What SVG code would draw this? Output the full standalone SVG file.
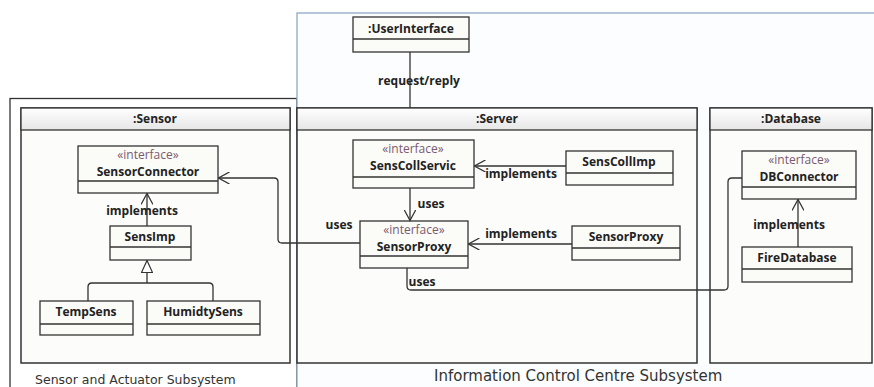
<svg xmlns="http://www.w3.org/2000/svg" width="874" height="387" viewBox="0 0 874 387">
<defs>
<linearGradient id="hdr" x1="0" y1="0" x2="0" y2="1">
<stop offset="0" stop-color="#ffffff"/>
<stop offset="1" stop-color="#e6e6e6"/>
</linearGradient>
<marker id="open" viewBox="0 0 12 12" refX="11" refY="6" markerWidth="12" markerHeight="12" markerUnits="userSpaceOnUse" orient="auto">
<path d="M0,0 L11,6 L0,12" fill="none" stroke="#333" stroke-width="1.3"/>
</marker>
<marker id="tri" viewBox="0 0 14 12" refX="13" refY="6" markerWidth="14" markerHeight="12" markerUnits="userSpaceOnUse" orient="auto">
<path d="M1,0.5 L13,6 L1,11.5 Z" fill="#fff" stroke="#333" stroke-width="1.2"/>
</marker>
</defs>
<style>
text{font-family:"Open Sans","DejaVu Sans",sans-serif;fill:#222}
.b{font-weight:bold;font-size:12px}
.st{font-size:12px;fill:#7a5a6e}
.lbl{font-weight:bold;font-size:12px}
.sub{font-family:"Comic Sans MS","DejaVu Sans",sans-serif;fill:#333}
.frame{fill:#fff;stroke:#333;stroke-width:1.3}
.icc{fill:#fbfdfe;stroke:#8fa8c4;stroke-width:1.3}
.comp{fill:#fcfcfa;stroke:#333;stroke-width:1.5}
.hdr{fill:url(#hdr);stroke:#333;stroke-width:1.3}
.cls{fill:#fbfbf8;stroke:#333;stroke-width:1.3}
.conn{fill:none;stroke:#333;stroke-width:1.3}
</style>
<rect width="874" height="387" fill="#fff"/>

<g id="sensor-subsystem">
<rect class="frame" x="10" y="98.5" width="287" height="300"/>
<text class="sub" x="35" y="384" style="font-size:12.5px">Sensor and Actuator Subsystem</text>
</g>
<g id="icc-subsystem">
<rect class="icc" x="297" y="13" width="590" height="390"/>
<text class="sub" x="434" y="381" style="font-size:15px">Information Control Centre Subsystem</text>
</g>

<g id="sensor">
<rect class="comp" x="21" y="108" width="269" height="255"/>
<rect class="hdr" x="21" y="108" width="269" height="22"/>
<text class="b" x="155" y="123" text-anchor="middle">:Sensor</text>
</g>
<g id="server">
<rect class="comp" x="297" y="108" width="400" height="255"/>
<rect class="hdr" x="297" y="108" width="400" height="22"/>
<text class="b" x="497" y="123" text-anchor="middle">:Server</text>
</g>
<g id="database">
<rect class="comp" x="710" y="108" width="162" height="255"/>
<rect class="hdr" x="710" y="108" width="162" height="22"/>
<text class="b" x="791" y="123" text-anchor="middle">:Database</text>
</g>

<g id="userinterface">
<rect class="cls" x="353" y="17" width="116" height="35"/>
<line class="conn" x1="353" y1="39" x2="469" y2="39"/>
<text class="b" x="411" y="33" text-anchor="middle">:UserInterface</text>
</g>

<g id="sensorconnector">
<rect class="cls" x="78" y="146" width="140" height="47"/>
<line class="conn" x1="78" y1="181" x2="218" y2="181"/>
<text class="st" x="148" y="159" text-anchor="middle">«interface»</text>
<text class="b" x="148" y="176" text-anchor="middle">SensorConnector</text>
</g>
<g id="sensimp">
<rect class="cls" x="110" y="226" width="81" height="34"/>
<line class="conn" x1="110" y1="247" x2="191" y2="247"/>
<text class="b" x="150" y="241" text-anchor="middle">SensImp</text>
</g>
<g id="tempsens">
<rect class="cls" x="40" y="301" width="93" height="34"/>
<line class="conn" x1="40" y1="324" x2="133" y2="324"/>
<text class="b" x="86" y="316" text-anchor="middle">TempSens</text>
</g>
<g id="humidtysens">
<rect class="cls" x="147" y="301" width="113" height="34"/>
<line class="conn" x1="147" y1="324" x2="260" y2="324"/>
<text class="b" x="203" y="316" text-anchor="middle">HumidtySens</text>
</g>

<g id="senscollservic">
<rect class="cls" x="353" y="140" width="121" height="48"/>
<line class="conn" x1="353" y1="177" x2="474" y2="177"/>
<text class="st" x="413" y="153" text-anchor="middle">«interface»</text>
<text class="b" x="413" y="170" text-anchor="middle">SensCollServic</text>
</g>
<g id="senscollimp">
<rect class="cls" x="566" y="151" width="107" height="34"/>
<line class="conn" x1="566" y1="173" x2="673" y2="173"/>
<text class="b" x="619" y="166" text-anchor="middle">SensCollImp</text>
</g>
<g id="sensorproxy-interface">
<rect class="cls" x="360" y="221" width="108" height="47"/>
<line class="conn" x1="360" y1="256" x2="468" y2="256"/>
<text class="st" x="414" y="234" text-anchor="middle">«interface»</text>
<text class="b" x="414" y="251" text-anchor="middle">SensorProxy</text>
</g>
<g id="sensorproxy">
<rect class="cls" x="572" y="226" width="108" height="34"/>
<line class="conn" x1="572" y1="248" x2="680" y2="248"/>
<text class="b" x="626" y="241" text-anchor="middle">SensorProxy</text>
</g>

<g id="dbconnector">
<rect class="cls" x="742" y="151" width="114" height="48"/>
<line class="conn" x1="742" y1="187" x2="856" y2="187"/>
<text class="st" x="799" y="164" text-anchor="middle">«interface»</text>
<text class="b" x="799" y="181" text-anchor="middle">DBConnector</text>
</g>
<g id="firedatabase">
<rect class="cls" x="742" y="247" width="110" height="35"/>
<line class="conn" x1="742" y1="269" x2="852" y2="269"/>
<text class="b" x="797" y="262" text-anchor="middle">FireDatabase</text>
</g>

<g id="connectors">
<line class="conn" x1="410" y1="52" x2="410" y2="108"/>
<text class="lbl" x="419" y="85" text-anchor="middle">request/reply</text>

<line class="conn" x1="147" y1="226" x2="147" y2="193.5" marker-end="url(#open)"/>
<text class="lbl" x="142" y="215" text-anchor="middle">implements</text>

<path class="conn" d="M88,301 V287 Q88,283 92,283 H209 Q213,283 213,287 V301"/>
<line class="conn" x1="147" y1="283" x2="147" y2="260.5" marker-end="url(#tri)"/>

<path class="conn" d="M360,243 H282 Q278,243 278,239 V182 Q278,178 274,178 H218.5" marker-end="url(#open)"/>
<text class="lbl" x="339" y="229" text-anchor="middle">uses</text>

<line class="conn" x1="410" y1="188" x2="410" y2="220.5" marker-end="url(#open)"/>
<text class="lbl" x="431" y="208" text-anchor="middle">uses</text>

<line class="conn" x1="566" y1="166" x2="474.5" y2="166" marker-end="url(#open)"/>
<text class="lbl" x="521" y="178" text-anchor="middle">implements</text>

<line class="conn" x1="572" y1="244" x2="468.5" y2="244" marker-end="url(#open)"/>
<text class="lbl" x="521" y="238" text-anchor="middle">implements</text>

<path class="conn" d="M407,268 V286 Q407,290 411,290 H724 Q728,290 728,286 V182 Q728,178 732,178 H742"/>
<text class="lbl" x="422" y="286" text-anchor="middle">uses</text>

<line class="conn" x1="798" y1="247" x2="798" y2="199.5" marker-end="url(#open)"/>
<text class="lbl" x="789" y="229" text-anchor="middle">implements</text>
</g>
</svg>
